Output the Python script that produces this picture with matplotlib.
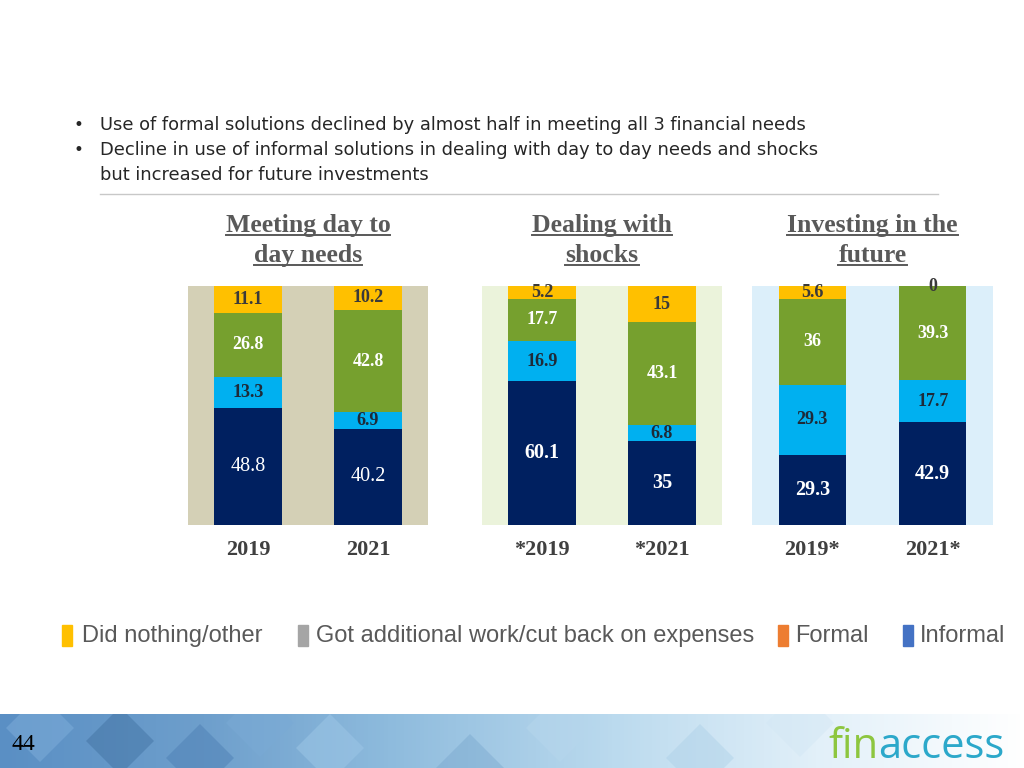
import numpy as np
import matplotlib.pyplot as plt
from matplotlib.patches import Rectangle, Polygon
from matplotlib.lines import Line2D
from matplotlib.colors import LinearSegmentedColormap

# ---- data ----
titles = [["Meeting day to", "day needs"],
          ["Dealing with", "shocks"],
          ["Investing in the", "future"]]
years = [["2019", "2021"], ["*2019", "*2021"], ["2019*", "2021*"]]

informal = [[48.8, 40.2], [60.1, 35], [29.3, 42.9]]
formal = [[13.3, 6.9], [16.9, 6.8], [29.3, 17.7]]
extra_work = [[26.8, 42.8], [17.7, 43.1], [36, 39.3]]
did_nothing = [[11.1, 10.2], [5.2, 15], [5.6, 0]]

bullet_lines = ["Use of formal solutions declined by almost half in meeting all 3 financial needs",
                "Decline in use of informal solutions in dealing with day to day needs and shocks",
                "but increased for future investments"]

legend_labels = ["Did nothing/other", "Got additional work/cut back on expenses", "Formal", "Informal"]
legend_colors = ["#FFC000", "#A5A5A5", "#ED7D31", "#4472C4"]

page_number = "44"

W, H = 1024, 768


def fx(px):
    return px / W


def fy(py):
    return 1 - py / H


fig = plt.figure(figsize=(W / 100, H / 100), dpi=100)
fig.patch.set_facecolor("white")

# bullets + rule
for yb in [125, 150]:
    fig.text(fx(78), fy(yb), "\u2022", fontsize=12, color="#262626", va="center", ha="center")
for line, yb in zip(bullet_lines, [125, 150, 175]):
    fig.text(fx(100), fy(yb), line, fontsize=12.9, color="#262626", va="center",
             family="DejaVu Sans")
fig.add_artist(Line2D([fx(100), fx(938)], [fy(194), fy(194)], color="#C8C8C8", lw=1))

# ---- stacked bars ----
series = [informal, formal, extra_work, did_nothing]
seg_colors = ["#002060", "#00B0F0", "#76A02E", "#FFC000"]
lab_colors = ["white", "#1E2A38", "white", "#3A3A3A"]
panel_left = [188, 482, 752]
panel_w = [240, 240, 241]
panel_bg = ["#D4D0B6", "#EBF3DB", "#DCEFFA"]

title_texts = []
for i in range(3):
    ax = fig.add_axes([fx(panel_left[i]), fy(525), panel_w[i] / W, 239 / H])
    ax.set_facecolor(panel_bg[i])
    x = np.arange(2)
    bottom = np.zeros(2)
    for k, seg in enumerate(series):
        vals = np.array(seg[i], dtype=float)
        ax.bar(x, vals, 0.56, bottom=bottom, color=seg_colors[k], linewidth=0)
        for j in range(2):
            big = k == 0
            weight = "normal" if (big and i == 0) else "bold"
            ax.text(x[j], bottom[j] + vals[j] / 2, f"{vals[j]:g}",
                    ha="center", va="center", color=lab_colors[k],
                    fontsize=14.5 if big else 13, fontweight=weight,
                    family="Liberation Serif", clip_on=False)
        bottom += vals
    ax.set_xlim(-0.5, 1.5)
    ax.set_ylim(0, 100)
    ax.set_yticks([])
    ax.set_xticks(x, years[i])
    ax.tick_params(axis="x", length=0, pad=11)
    for t in ax.get_xticklabels():
        t.set_family("Liberation Serif")
        t.set_fontweight("bold")
        t.set_fontsize(16)
        t.set_color("#404040")
    for s in ax.spines.values():
        s.set_visible(False)

    cx = fx(panel_left[i] + panel_w[i] / 2)
    for line, base in zip(titles[i], [232, 262]):
        t = fig.text(cx, fy(base), line, ha="center", va="baseline", fontsize=18.5,
                     fontweight="bold", family="Liberation Serif", color="#595959")
        title_texts.append((t, base))

# ---- legend (row of swatches) ----
sw_x = [62, 298, 778, 903]
tx_x = [82, 316, 795, 920]
for lab, col, sx, tx in zip(legend_labels, legend_colors, sw_x, tx_x):
    fig.add_artist(Rectangle((fx(sx), fy(646)), 10 / W, 21 / H, color=col,
                             transform=fig.transFigure))
    fig.text(fx(tx), fy(636), lab, fontsize=17, color="#595959", va="center",
             family="Liberation Sans")

# ---- footer banner ----
fax = fig.add_axes([0, 0, 1, 54 / H])
fax.set_xlim(0, W)
fax.set_ylim(0, 54)
fax.axis("off")
cmap = LinearSegmentedColormap.from_list("band", [(0, "#5A8FC4"), (0.2, "#6E9FCC"), (0.38, "#8EBBDD"),
                                                  (0.6, "#BBDAEE"), (0.8, "#E2F0F9"), (1, "#FFFFFF")])
fax.imshow(np.linspace(0, 1, 256)[None, :], cmap=cmap, aspect="auto", extent=[0, W, 0, 54])
diamonds = [(40, 40, "#7FAEDA", 0.5), (120, 27, "#3F6F9F", 0.45), (200, 10, "#4E80B5", 0.5),
            (260, 45, "#7AAAD5", 0.5), (330, 20, "#9CC6E6", 0.55), (470, 0, "#6F9FC8", 0.35),
            (560, 40, "#B6D6EC", 0.5), (700, 10, "#A8CDE6", 0.4), (800, 45, "#D4E8F5", 0.5)]
for cx, cy, col, a in diamonds:
    r = 34
    fax.add_patch(Polygon([(cx - r, cy), (cx, cy + r), (cx + r, cy), (cx, cy - r)],
                          closed=True, color=col, alpha=a, lw=0, clip_on=True))
fig.text(fx(12), fy(745), page_number, fontsize=17, family="Liberation Serif",
         color="black", va="center")
fin = fig.text(fx(828), fy(747), "fin", fontsize=30, color="#8DC63F", va="center",
               family="Open Sans")
fig.canvas.draw()
rend = fig.canvas.get_renderer()
bb = fin.get_window_extent(rend)
fig.text(bb.x1 / W, fy(747), "access", fontsize=30, color="#2CA8CA", va="center",
         family="Open Sans")

# underline titles
for t, base in title_texts:
    b = t.get_window_extent(rend)
    fig.add_artist(Line2D([b.x0 / W, b.x1 / W], [fy(base + 3), fy(base + 3)],
                          color="#595959", lw=1.4))

fig.savefig("out.png", dpi=100)
